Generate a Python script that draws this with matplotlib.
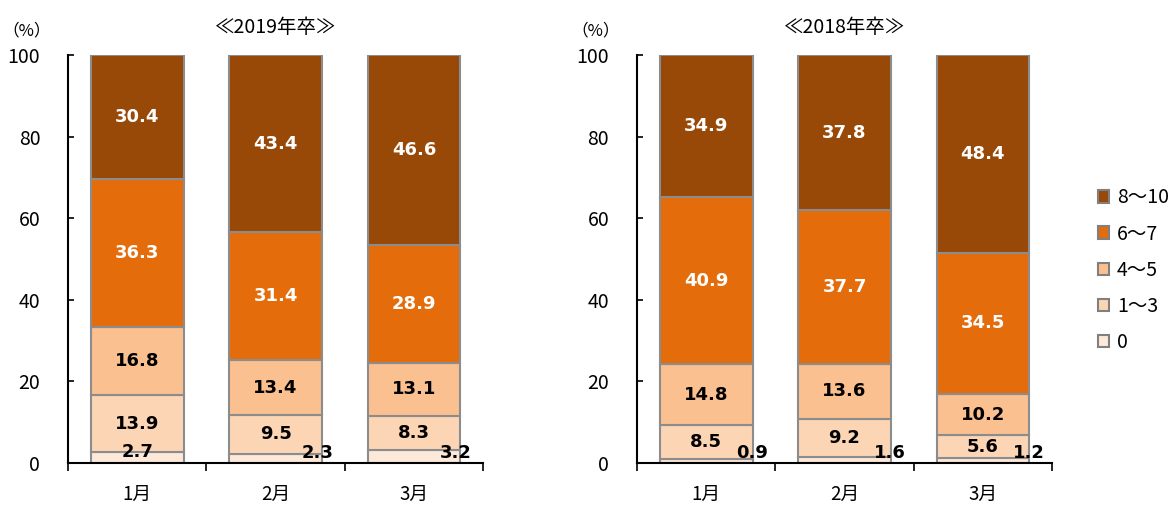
import numpy as np
import matplotlib.pyplot as plt
from matplotlib.patches import Patch

plt.rcParams['font.family'] = ['Noto Sans CJK JP', 'DejaVu Sans']

months = ['1月', '2月', '3月']
groups = ['0', '1～3', '4～5', '6～7', '8～10']
colors = ['#FDE9D9', '#FCD5B5', '#FAC090', '#E46C0A', '#984807']
text_colors = ['black', 'black', 'black', 'white', 'white']

# ≪2019年卒≫
v2019_0 = [2.7, 2.3, 3.2]
v2019_1_3 = [13.9, 9.5, 8.3]
v2019_4_5 = [16.8, 13.4, 13.1]
v2019_6_7 = [36.3, 31.4, 28.9]
v2019_8_10 = [30.4, 43.4, 46.6]

# ≪2018年卒≫
v2018_0 = [0.9, 1.6, 1.2]
v2018_1_3 = [8.5, 9.2, 5.6]
v2018_4_5 = [14.8, 13.6, 10.2]
v2018_6_7 = [40.9, 37.7, 34.5]
v2018_8_10 = [34.9, 37.8, 48.4]

panels = [
    ('≪2019年卒≫', [v2019_0, v2019_1_3, v2019_4_5, v2019_6_7, v2019_8_10], [0.0, 0.30, 0.30]),
    ('≪2018年卒≫', [v2018_0, v2018_1_3, v2018_4_5, v2018_6_7, v2018_8_10], [0.33, 0.33, 0.33]),
]

fig = plt.figure(figsize=(11.74, 5.05), dpi=100)
lefts = [0.058, 0.5426]
x = np.arange(len(months))
w = 0.67

for left, (title, series, zero_dx) in zip(lefts, panels):
    ax = fig.add_axes([left, 0.083, 0.3535, 0.808])
    bottom = np.zeros(len(months))
    for i, vals in enumerate(series):
        vals = np.array(vals)
        ax.bar(x, vals, w, bottom=bottom, color=colors[i], edgecolor='#8c8c8c', linewidth=1.5, zorder=2)
        for j, v in enumerate(vals):
            if i == 0:
                tx = x[j] + zero_dx[j]
                ty = 2.7 if zero_dx[j] == 0 else 2.4
            else:
                tx = x[j]
                ty = bottom[j] + v / 2
            ax.text(tx, ty, f'{v:.1f}', ha='center', va='center', fontsize=13,
                    fontweight='bold', color=text_colors[i], family=['DejaVu Sans'], zorder=3)
        bottom += vals

    ax.set_xlim(-0.5, 2.5)
    ax.set_ylim(0, 100)
    ax.set_yticks(range(0, 101, 20))
    ax.set_xticks(x)
    ax.set_xticklabels(months, fontsize=13.5)
    ax.set_xticks([-0.5, 0.5, 1.5, 2.5], minor=True)
    ax.tick_params(axis='x', which='major', length=0, pad=15)
    ax.tick_params(axis='x', which='minor', length=6, width=1.2, direction='out')
    ax.tick_params(axis='y', length=4, width=1.2, direction='in', labelsize=14, pad=20)
    for s in ['top', 'right']:
        ax.spines[s].set_visible(False)
    for s in ['left', 'bottom']:
        ax.spines[s].set_linewidth(1.5)
    ax.set_title(title, fontsize=14, pad=16)
    ax.text(-0.099, 1.059, '（%）', transform=ax.transAxes, fontsize=12, ha='center', va='center')

handles = [Patch(facecolor=colors[i], edgecolor='#808080', linewidth=1.5, label=groups[i])
           for i in range(len(groups) - 1, -1, -1)]
fig.legend(handles=handles, loc='center left', bbox_to_anchor=(0.92, 0.465), frameon=False,
           fontsize=14, handlelength=0.6, handleheight=0.6, handletextpad=0.4, labelspacing=0.78)

plt.savefig('out.png', dpi=100)
